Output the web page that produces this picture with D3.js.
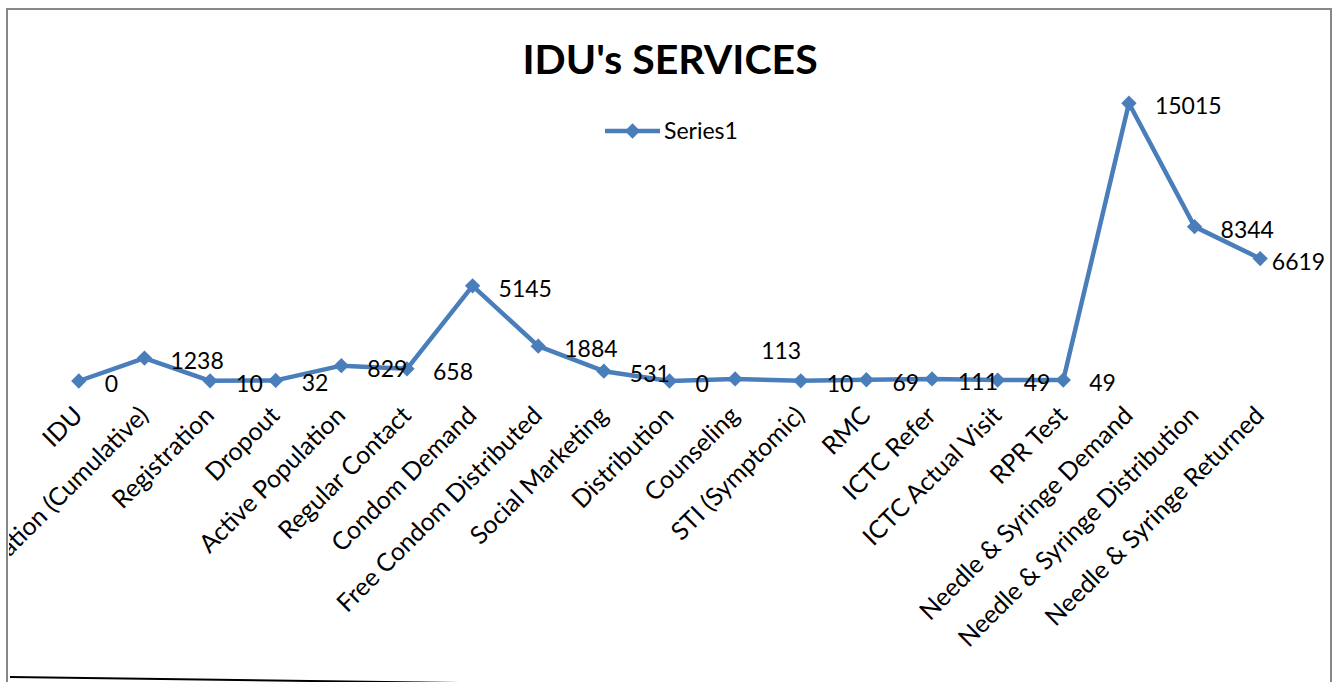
<!DOCTYPE html>
<html>
<head>
  <script src="https://d3js.org/d3.v7.min.js"></script>
  <style>
    body { margin: 0; background: white; }
    svg { display: block; }
    text { font-family: Lato, "Open Sans", sans-serif; fill: #000; }
  </style>
</head>
<body>
<svg width="1337" height="682"></svg>
<script>
// data
const categories = [
  "IDU", "Registration (Cumulative)", "Registration", "Dropout", "Active Population",
  "Regular Contact", "Condom Demand", "Free Condom Distributed", "Social Marketing",
  "Distribution", "Counseling", "STI (Symptomic)", "RMC", "ICTC Refer",
  "ICTC Actual Visit", "RPR Test", "Needle & Syringe Demand",
  "Needle & Syringe Distribution", "Needle & Syringe Returned"
];
const series1 = [0, 1238, 10, 32, 829, 658, 5145, 1884, 531, 0, 113, 10, 69, 111, 49, 49, 15015, 8344, 6619];
const seriesName = "Series1";
const title = "IDU's SERVICES";

const blue = "#4A7EBB";
const svg = d3.select("svg");

// frame
svg.append("path")
  .attr("d", "M7,682 V9 H1331 V682")
  .attr("fill", "none")
  .attr("stroke", "#888")
  .attr("stroke-width", 2);
svg.append("line")
  .attr("x1", 10).attr("y1", 677).attr("x2", 460).attr("y2", 683)
  .attr("stroke", "#000").attr("stroke-width", 2);

svg.append("defs").append("clipPath").attr("id", "clip")
  .append("rect").attr("x", 9).attr("y", 10).attr("width", 1320).attr("height", 672);

// scales
const x = d3.scalePoint().domain(categories).range([46, 1293]).padding(0.5);
const y = d3.scaleLinear().domain([0, 16000]).range([381, 85]);

// title
svg.append("text")
  .attr("x", 670).attr("y", 74)
  .attr("text-anchor", "middle")
  .attr("font-size", 41).attr("font-weight", "bold")
  .text(title);

// legend
const lg = svg.append("g").attr("transform", "translate(605,131)");
lg.append("line").attr("x1", 0).attr("x2", 55)
  .attr("stroke", blue).attr("stroke-width", 4.5);
lg.append("path").attr("d", d3.symbol(d3.symbolDiamond2, 150)())
  .attr("transform", "translate(27.5,0)").attr("fill", blue);
lg.append("text").attr("x", 59).attr("y", 8)
  .attr("font-size", 23).text(seriesName);

// category axis
const axis = d3.axisBottom(x).tickSize(0).tickPadding(0);
const ax = svg.append("g")
  .attr("transform", `translate(0,${y(0)})`)
  .attr("clip-path", "url(#clip)")
  .call(axis);
ax.select(".domain").attr("stroke", "#888").attr("stroke-width", 2);
ax.selectAll("text")
  .attr("font-size", 25)
  .attr("font-family", "Lato, sans-serif")
  .attr("fill", "#000")
  .attr("text-anchor", "end")
  .attr("dy", null).attr("y", 0)
  .attr("transform", "translate(5,36) rotate(-45)");

// line
const line = d3.line()
  .x((d, i) => x(categories[i]))
  .y(d => y(d));
svg.append("path")
  .datum(series1)
  .attr("fill", "none")
  .attr("stroke", blue)
  .attr("stroke-width", 4.5)
  .attr("stroke-linejoin", "round")
  .attr("d", line);

// markers
svg.append("g").selectAll("path")
  .data(series1)
  .join("path")
  .attr("d", d3.symbol(d3.symbolDiamond2, 150)())
  .attr("transform", (d, i) => `translate(${x(categories[i])},${y(d)})`)
  .attr("fill", blue);

// data labels (right of point; kept inside the frame)
svg.append("g").selectAll("text")
  .data(series1)
  .join("text")
  .attr("x", (d, i) => Math.min(x(categories[i]) + 26, 1325 - 13.3 * String(d).length))
  .attr("y", (d, i) => y(d) + 11 - (categories[i] === "Counseling" ? 31 : 0))
  .attr("font-size", 23)
  .text(d => d);
</script>
</body>
</html>
